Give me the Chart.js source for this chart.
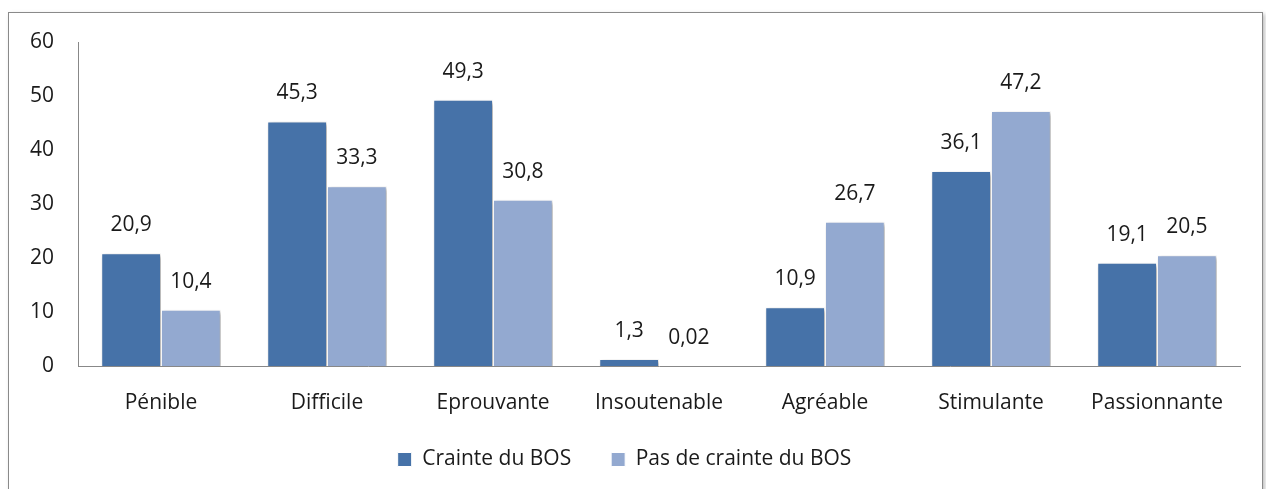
<!DOCTYPE html>
<html lang="fr">
<head>
<meta charset="UTF-8">
<title>Crainte du BOS</title>
<script src="https://cdn.jsdelivr.net/npm/chart.js@4.4.1/dist/chart.umd.min.js"></script>
<style>
  body { margin: 0; background: #fff; }
  .frame {
    position: absolute;
    left: 8px; top: 12px;
    width: 1253px; height: 490px;
    border: 1px solid #8a8a8a;
    box-shadow: 2px 2px 4px rgba(0,0,0,0.25);
    background: #fff;
  }
  .frame canvas { display: block; }
</style>
</head>
<body>
<div class="frame">
  <canvas id="chart" width="1253" height="477"></canvas>
</div>
<script>
  var categories = ["Pénible", "Difficile", "Eprouvante", "Insoutenable", "Agréable", "Stimulante", "Passionnante"];
  var crainte = [20.9, 45.3, 49.3, 1.3, 10.9, 36.1, 19.1];
  var pasCrainte = [10.4, 33.3, 30.8, 0.02, 26.7, 47.2, 20.5];
  var seriesNames = ["Crainte du BOS", "Pas de crainte du BOS"];
  var yTicks = [0, 10, 20, 30, 40, 50, 60];

  var fontFamily = "'Open Sans', sans-serif";
  var fontSize = 21;

  // soft shadow under the bars, like the office chart
  var barShadow = {
    id: 'barShadow',
    beforeDatasetsDraw: function(chart) {
      var ctx = chart.ctx;
      ctx.save();
      ctx.shadowColor = 'rgba(0,0,0,0.35)';
      ctx.shadowBlur = 4;
      ctx.shadowOffsetX = 2;
      ctx.shadowOffsetY = 2;
    },
    afterDatasetsDraw: function(chart) {
      chart.ctx.restore();
    }
  };

  // value labels above each bar, with comma decimals
  var valueLabels = {
    id: 'valueLabels',
    afterDatasetsDraw: function(chart) {
      var ctx = chart.ctx;
      ctx.save();
      ctx.font = fontSize + "px " + fontFamily;
      ctx.fillStyle = '#1a1a1a';
      ctx.textAlign = 'center';
      ctx.textBaseline = 'middle';
      chart.data.datasets.forEach(function(ds, i) {
        chart.getDatasetMeta(i).data.forEach(function(bar, j) {
          var txt = String(ds.data[j]).replace('.', ',');
          ctx.fillText(txt, bar.x, bar.y - 28);
        });
      });
      ctx.restore();
    }
  };

  // legend padding is big for the gap between items; pull the row back up
  var legendShift = {
    id: 'legendShift',
    afterLayout: function(chart) {
      chart.legend.top -= 9;
      chart.legend.bottom -= 9;
    }
  };

  var ctx = document.getElementById('chart').getContext('2d');
  var chart = new Chart(ctx, {
    type: 'bar',
    data: {
      labels: categories,
      datasets: [{
        label: seriesNames[0],
        data: crainte,
        backgroundColor: '#4672A8',
        borderColor: '#ffffff',
        borderWidth: 1
      }, {
        label: seriesNames[1],
        data: pasCrainte,
        backgroundColor: '#93A9D0',
        borderColor: '#ffffff',
        borderWidth: 1
      }]
    },
    options: {
      responsive: false,
      animation: false,
      layout: { padding: { top: 29, right: 22, left: 0, bottom: 9 } },
      datasets: {
        bar: { categoryPercentage: 0.72, barPercentage: 1.0 }
      },
      scales: {
        x: {
          afterFit: function(scale) { scale.height = 52; },
          grid: { display: false, drawTicks: false },
          border: { color: '#888', width: 1 },
          ticks: {
            color: '#1a1a1a',
            font: { family: fontFamily, size: fontSize },
            padding: 24
          }
        },
        y: {
          min: 0,
          max: 60,
          afterBuildTicks: function(scale) {
            scale.ticks = yTicks.map(function(v) { return { value: v }; });
          },
          afterFit: function(scale) {
            scale.width = 69;
            scale.paddingTop = 0;
            scale.paddingBottom = 0;
          },
          grid: { display: false, drawTicks: false },
          border: { color: '#888', width: 1 },
          ticks: {
            color: '#1a1a1a',
            font: { family: fontFamily, size: fontSize },
            padding: 24
          }
        }
      },
      plugins: {
        legend: {
          position: 'bottom',
          maxHeight: 63,
          labels: {
            boxWidth: 14,
            boxHeight: 14,
            padding: 40,
            color: '#1a1a1a',
            font: { family: fontFamily, size: fontSize }
          }
        },
        tooltip: { enabled: false }
      }
    },
    plugins: [barShadow, valueLabels, legendShift]
  });
</script>
</body>
</html>
